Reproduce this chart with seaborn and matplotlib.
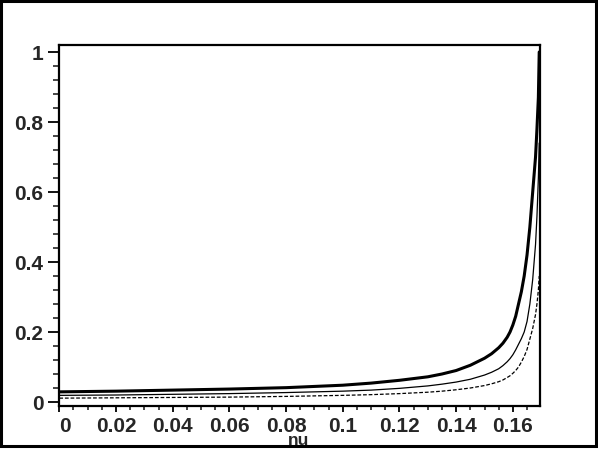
import numpy as np
import pandas as pd
import matplotlib
matplotlib.use("Agg")
import matplotlib.pyplot as plt
import seaborn as sns
from matplotlib.ticker import MultipleLocator, FuncFormatter
from matplotlib.patches import Rectangle

# values
nu = [0, 0.02, 0.04, 0.06, 0.08, 0.10, 0.11, 0.12, 0.13, 0.135, 0.14, 0.145,
      0.15, 0.1525, 0.155, 0.1565, 0.158, 0.159, 0.16, 0.161, 0.162, 0.163,
      0.164, 0.165, 0.166, 0.167, 0.168, 0.1685, 0.169, 0.1693]
thick_curve = [0.029, 0.031, 0.034, 0.037, 0.041, 0.048, 0.054, 0.062, 0.072,
               0.080, 0.090, 0.105, 0.125, 0.138, 0.155, 0.168, 0.185, 0.20,
               0.22, 0.245, 0.28, 0.315, 0.36, 0.42, 0.50, 0.60, 0.70, 0.78,
               0.87, 1.0]
thin_curve = [0.019, 0.020, 0.022, 0.024, 0.027, 0.031, 0.034, 0.039, 0.046,
              0.051, 0.057, 0.065, 0.077, 0.085, 0.095, 0.104, 0.115, 0.124,
              0.135, 0.149, 0.165, 0.181, 0.20, 0.23, 0.28, 0.35, 0.45, 0.53,
              0.64, 0.74]
dashed_curve = [0.011, 0.012, 0.013, 0.014, 0.016, 0.019, 0.021, 0.024, 0.028,
                0.031, 0.035, 0.040, 0.047, 0.052, 0.058, 0.063, 0.070, 0.075,
                0.082, 0.090, 0.10, 0.114, 0.13, 0.15, 0.18, 0.21, 0.25, 0.28,
                0.32, 0.36]

sns.set_style("ticks")
plt.rcParams['font.family'] = ['Liberation Sans', 'DejaVu Sans']
plt.rcParams['font.weight'] = 'bold'

df = pd.DataFrame({'nu': nu, 'thick': thick_curve, 'thin': thin_curve,
                   'dashed': dashed_curve})

fig = plt.figure(figsize=(5.98, 4.5), dpi=100)
ax = fig.add_axes([59.3 / 598, 44 / 450, 480.2 / 598, 361 / 450])

sns.lineplot(data=df, x='nu', y='thick', ax=ax, color='black', linewidth=2.2)
sns.lineplot(data=df, x='nu', y='thin', ax=ax, color='black', linewidth=0.9)
sns.lineplot(data=df, x='nu', y='dashed', ax=ax, color='black', linewidth=0.9,
             linestyle=(0, (3, 1.5)))

ax.set_xlim(0, 0.1694)
ax.set_ylim(-0.0114, 1.02)

ax.xaxis.set_major_locator(MultipleLocator(0.02))
ax.xaxis.set_minor_locator(MultipleLocator(0.005))
ax.yaxis.set_major_locator(MultipleLocator(0.2))
ax.yaxis.set_minor_locator(MultipleLocator(0.04))
ax.xaxis.set_major_formatter(FuncFormatter(lambda v, p: f"{v:.2f}".rstrip('0').rstrip('.') if abs(v) > 1e-9 else "0"))
ax.yaxis.set_major_formatter(FuncFormatter(lambda v, p: f"{v:.1f}".rstrip('0').rstrip('.') if abs(v) > 1e-9 else "0"))

ax.tick_params(axis='both', which='major', labelsize=15, width=1.3, color='black')
ax.tick_params(axis='y', which='major', length=8, pad=3.5, direction='out')
ax.tick_params(axis='y', which='minor', length=4.5, width=1.2, direction='out')
ax.tick_params(axis='x', which='major', length=4, pad=4, direction='out')
ax.tick_params(axis='x', which='minor', length=3, width=1.2, direction='out')

for s in ax.spines.values():
    s.set_visible(True)
    s.set_linewidth(1.6)
    s.set_color('black')

ax.set_ylabel('')
ax.set_xlabel('nu', fontsize=12.5, fontweight='bold')
ax.xaxis.set_label_coords(0.499, -0.076)
ax.xaxis.label.set_va('top')

# outer frame around the whole picture
fig.patches.append(Rectangle((0.002, 0.008), 0.994, 0.99, transform=fig.transFigure,
                             fill=False, edgecolor='black', linewidth=2.2))

# first x label sits to the right of its tick, as in the reference
fig.canvas.draw()
for t in ax.xaxis.get_major_ticks():
    if abs(t.get_loc()) < 1e-9:
        t.label1.set_horizontalalignment('left')

fig.savefig('out.png', dpi=100)
